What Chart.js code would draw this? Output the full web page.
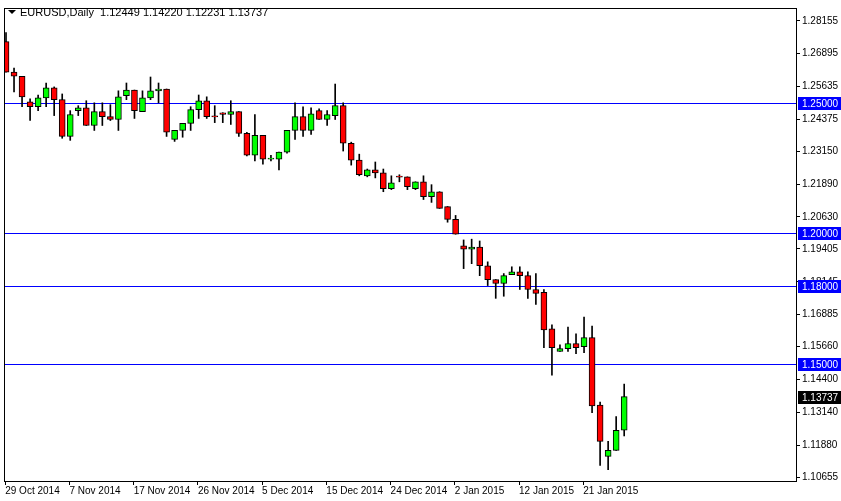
<!DOCTYPE html>
<html><head><meta charset="utf-8">
<script src="https://cdn.jsdelivr.net/npm/chart.js@4"></script>
<style>html,body{margin:0;padding:0;background:#fff}#w{width:841px;height:501px}</style>
</head><body><div id="w"><canvas id="c"></canvas></div>
<script>
const symbolTitle = "EURUSD,Daily  1.12449 1.14220 1.12231 1.13737";
const dateLabels = ["29 Oct 2014","7 Nov 2014","17 Nov 2014","26 Nov 2014","5 Dec 2014","15 Dec 2014","24 Dec 2014","2 Jan 2015","12 Jan 2015","21 Jan 2015"];
const priceTicks = [1.28155,1.26895,1.25635,1.24375,1.23150,1.21890,1.20630,1.19405,1.18145,1.16885,1.15660,1.14400,1.13140,1.11880,1.10655];
const levels = [1.25000,1.20000,1.18000,1.15000];
const lastPrice = 1.13737;
const opens  = [1.2736,1.2619,1.2603,1.2505,1.2486,1.2520,1.2558,1.2513,1.2372,1.2471,1.2482,1.2414,1.2467,1.2448,1.2437,1.2528,1.2550,1.2467,1.2520,1.2547,1.2554,1.2361,1.2395,1.2422,1.2475,1.2509,1.2448,1.2463,1.2456,1.2467,1.2384,1.2300,1.2376,1.2285,1.2285,1.2312,1.2395,1.2448,1.2395,1.2471,1.2437,1.2452,1.2490,1.2346,1.2281,1.2221,1.2244,1.2232,1.2172,1.2217,1.2217,1.2172,1.2198,1.2141,1.2160,1.2103,1.2054,1.1952,1.1940,1.1948,1.1876,1.1823,1.1808,1.1842,1.1853,1.1838,1.1785,1.1774,1.1634,1.1547,1.1558,1.1577,1.1566,1.1600,1.1342,1.1145,1.1168,1.12449];
const highs  = [1.2770,1.2634,1.2603,1.2516,1.2531,1.2577,1.2562,1.2535,1.2471,1.2490,1.2509,1.2501,1.2501,1.2494,1.2547,1.2577,1.2550,1.2547,1.2600,1.2577,1.2554,1.2395,1.2422,1.2486,1.2531,1.2524,1.2490,1.2463,1.2509,1.2467,1.2388,1.2456,1.2376,1.2300,1.2312,1.2395,1.2501,1.2486,1.2482,1.2478,1.2471,1.2573,1.2501,1.2350,1.2304,1.2247,1.2274,1.2247,1.2221,1.2225,1.2217,1.2198,1.2221,1.2187,1.2160,1.2103,1.2069,1.1975,1.1978,1.1971,1.1891,1.1823,1.1846,1.1872,1.1872,1.1853,1.1846,1.1785,1.1649,1.1573,1.1641,1.1615,1.1679,1.1645,1.1353,1.1202,1.1297,1.14220];
const lows   = [1.2619,1.2543,1.2486,1.2433,1.2471,1.2486,1.2452,1.2365,1.2357,1.2452,1.2414,1.2395,1.2414,1.2433,1.2395,1.2513,1.2441,1.2467,1.2513,1.2501,1.2372,1.2353,1.2369,1.2395,1.2441,1.2441,1.2425,1.2425,1.2418,1.2372,1.2297,1.2278,1.2266,1.2278,1.2244,1.2308,1.2361,1.2372,1.2380,1.2437,1.2414,1.2437,1.2316,1.2262,1.2221,1.2217,1.2213,1.2160,1.2168,1.2198,1.2168,1.2168,1.2130,1.2119,1.2096,1.2043,1.1997,1.1865,1.1884,1.1838,1.1800,1.1751,1.1759,1.1842,1.1785,1.1751,1.1728,1.1562,1.1456,1.1547,1.1547,1.1539,1.1543,1.1312,1.1110,1.1094,1.1168,1.12231];
const closes = [1.2619,1.2603,1.2524,1.2486,1.2520,1.2558,1.2513,1.2372,1.2456,1.2482,1.2414,1.2467,1.2448,1.2437,1.2524,1.2550,1.2471,1.2520,1.2547,1.2554,1.2388,1.2395,1.2422,1.2475,1.2509,1.2448,1.2447,1.2456,1.2467,1.2384,1.2300,1.2376,1.2285,1.2286,1.2312,1.2395,1.2448,1.2395,1.2459,1.2437,1.2456,1.2490,1.2346,1.2281,1.2225,1.2244,1.2232,1.2172,1.2194,1.2216,1.2179,1.2198,1.2141,1.2160,1.2096,1.2054,1.1997,1.1940,1.1948,1.1876,1.1823,1.1808,1.1838,1.1853,1.1838,1.1785,1.1770,1.1630,1.1562,1.1558,1.1577,1.1562,1.1600,1.1338,1.1202,1.1168,1.1245,1.13737];

const FONT = "Liberation Sans";
const wickData = opens.map((o,i)=>({x:i,y:[lows[i],highs[i]]}));
const bodyData = opens.map((o,i)=>({x:i,y:[o,closes[i]]}));
const bodyColors = opens.map((o,i)=> closes[i]>=o ? '#00ff00' : '#ff0000');

const overlay = {
  id:'overlay',
  beforeDraw(chart){
    const {ctx,chartArea:a} = chart;
    ctx.save(); ctx.fillStyle='#fff'; ctx.fillRect(0,0,chart.width,chart.height);
    const y = chart.scales.y;
    ctx.strokeStyle='#0000ff'; ctx.lineWidth=1;
    levels.forEach(v=>{const py=Math.round(y.getPixelForValue(v))+0.5;ctx.beginPath();ctx.moveTo(a.left,py);ctx.lineTo(a.right,py);ctx.stroke();});
    ctx.restore();
  },
  afterDraw(chart){
    const {ctx,chartArea:a} = chart;
    const y = chart.scales.y;
    ctx.save();
    ctx.strokeStyle='#000'; ctx.lineWidth=1;
    ctx.strokeRect(a.left+0.5,a.top+0.5,a.right-a.left,a.bottom-a.top);
    ctx.font='10px "'+FONT+'"'; ctx.textBaseline='middle'; ctx.textAlign='left';
    const box=(v,bg)=>{const py=Math.round(y.getPixelForValue(v));ctx.fillStyle=bg;ctx.fillRect(a.right+2,py-6,chart.width-a.right-2,13);ctx.fillStyle='#fff';ctx.fillText(v.toFixed(5),a.right+6,py+1);};
    levels.forEach(v=>box(v,'#0000ff'));
    box(lastPrice,'#000');
    ctx.fillStyle='#000'; ctx.font='11px "'+FONT+'"';
    ctx.beginPath();ctx.moveTo(8,10);ctx.lineTo(16,10);ctx.lineTo(12,14);ctx.closePath();ctx.fill();
    ctx.fillText(symbolTitle,20,13);
    ctx.restore();
  }
};

new Chart(document.getElementById('c'),{
  type:'bar',
  data:{datasets:[
    {data:wickData,backgroundColor:'#000',borderWidth:0,barThickness:1,grouped:false,order:2},
    {data:bodyData,backgroundColor:bodyColors,borderColor:'#000',borderWidth:1,borderSkipped:false,barThickness:6,minBarLength:1,grouped:false,order:1}
  ]},
  plugins:[overlay],
  options:{
    responsive:true,maintainAspectRatio:false,animation:false,
    layout:{padding:{left:4,top:3,right:0,bottom:0}},
    plugins:{legend:{display:false},tooltip:{enabled:false}},
    scales:{
      x:{type:'linear',min:-0.25,max:98.4,offset:false,
        grid:{drawOnChartArea:false,color:'#000',tickLength:4,offset:false},border:{display:false},
        afterBuildTicks(s){s.ticks=dateLabels.map((l,i)=>({value:i*8-0.1}));},
        afterFit(s){s.height=20;},
        ticks:{autoSkip:false,maxRotation:0,align:'start',padding:0,color:'#000',font:{family:FONT,size:10},
          callback:(v,i)=>dateLabels[i]}
      },
      y:{position:'right',min:1.10503,max:1.28647,
        grid:{drawOnChartArea:false,color:'#000',tickLength:4},border:{display:false},
        afterBuildTicks(s){s.ticks=priceTicks.map(v=>({value:v}));},
        afterFit(s){s.width=45;},
        ticks:{autoSkip:false,crossAlign:'near',padding:2,color:'#000',font:{family:FONT,size:10},
          callback:v=>v.toFixed(5)}
      }
    }
  }
});
</script></body></html>
